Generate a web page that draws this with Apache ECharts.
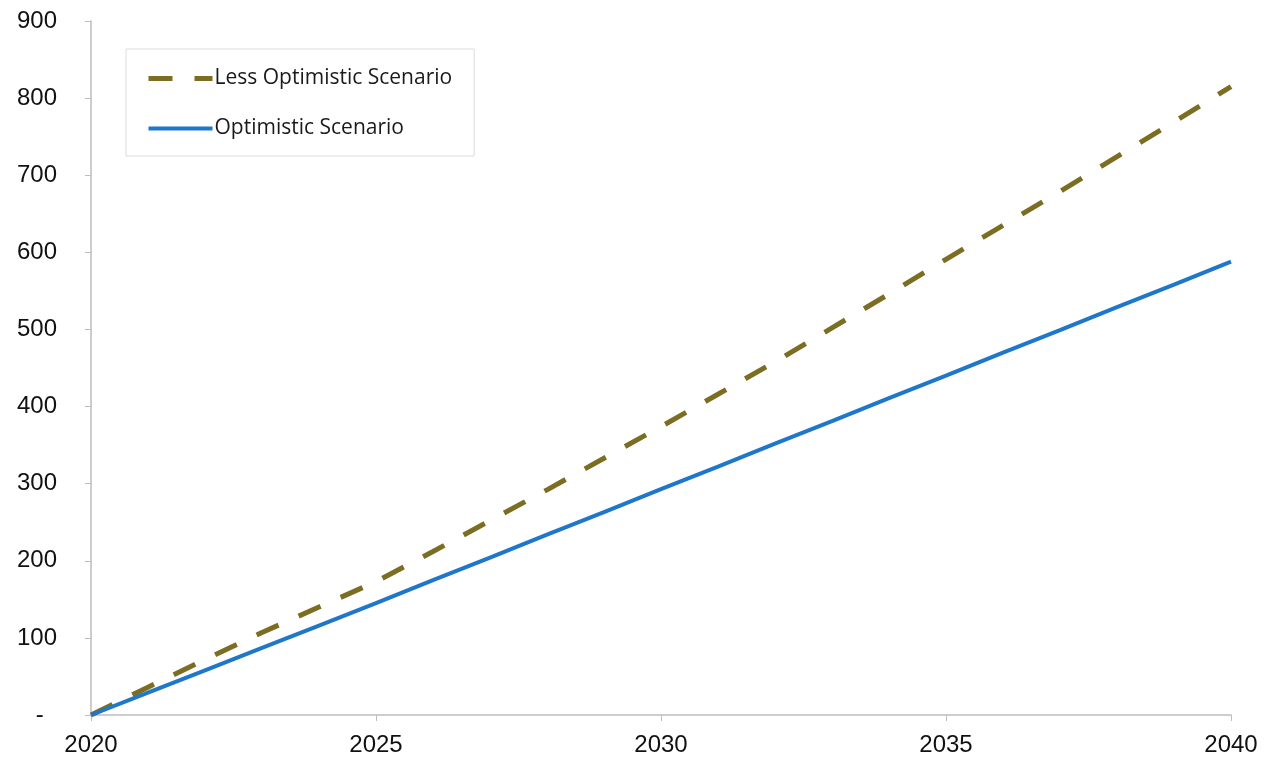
<!DOCTYPE html>
<html>
<head>
<meta charset="utf-8">
<style>
  html, body { margin: 0; padding: 0; background: #fff; }
  #chart { width: 1270px; height: 759px; }
</style>
<script src="https://cdn.jsdelivr.net/npm/echarts@6/dist/echarts.min.js"></script>
</head>
<body>
<div id="chart"></div>
<script>
const years = [2020, 2021, 2022, 2023, 2024, 2025, 2026, 2027, 2028, 2029, 2030,
  2031, 2032, 2033, 2034, 2035, 2036, 2037, 2038, 2039, 2040];
const lessOptimistic = [0, 36, 72, 107, 140, 173, 212, 252, 292, 333, 374,
  416, 458, 502, 546, 591, 635, 679, 724, 769, 815];
const optimistic = [0, 29, 58, 87, 116, 145, 175, 204, 234, 263, 293,
  322, 352, 381, 411, 440, 470, 499, 529, 558, 588];
const seriesNames = ['Less Optimistic Scenario', 'Optimistic Scenario'];

const pairs = vals => years.map((y, i) => [y, vals[i]]);
const axisGrey = '#bdbdbd';
const labelFont = { fontFamily: 'Liberation Sans, Arial, sans-serif', fontSize: 24, color: '#111' };
const olive = '#7b6e22';
const blue = '#1f77c9';

const chart = echarts.init(document.getElementById('chart'));
chart.setOption({
  backgroundColor: '#fff',
  animation: false,
  grid: { left: 91, right: 39, top: 21, bottom: 44 },
  legend: {
    orient: 'vertical',
    left: 126, top: 49,
    padding: [19, 22, 17, 20],
    itemGap: 29,
    itemWidth: 64, itemHeight: 21,
    borderColor: '#dcdcdc', borderWidth: 1,
    itemStyle: { opacity: 0 },
    textStyle: { fontFamily: 'Open Sans, sans-serif', fontSize: 21, color: '#1a1a1a', padding: [0, 0, 0, -3] },
    data: [
      { name: seriesNames[0], lineStyle: { width: 5, type: [24, 22], color: olive } },
      { name: seriesNames[1], lineStyle: { width: 4, color: blue } }
    ]
  },
  xAxis: {
    type: 'value', min: 2020, max: 2040, interval: 5,
    splitLine: { show: false },
    axisLine: { lineStyle: { color: axisGrey, width: 1.5 } },
    axisTick: { show: true, length: 6, lineStyle: { color: axisGrey } },
    axisLabel: Object.assign({ margin: 18, formatter: v => String(v) }, labelFont)
  },
  yAxis: {
    type: 'value', min: 0, max: 900, interval: 100,
    splitLine: { show: false },
    axisLine: { show: true, lineStyle: { color: axisGrey, width: 1.5 } },
    axisTick: { show: true, length: 6, lineStyle: { color: axisGrey } },
    axisLabel: Object.assign({ margin: 34, formatter: v => v === 0 ? '-  ' : String(v) }, labelFont)
  },
  series: [
    {
      name: seriesNames[0], type: 'line', symbol: 'none',
      data: pairs(lessOptimistic),
      lineStyle: { color: olive, width: 5, type: [24, 22] },
      itemStyle: { color: olive }
    },
    {
      name: seriesNames[1], type: 'line', symbol: 'none',
      data: pairs(optimistic),
      lineStyle: { color: blue, width: 4 },
      itemStyle: { color: blue }
    }
  ]
});
</script>
</body>
</html>
